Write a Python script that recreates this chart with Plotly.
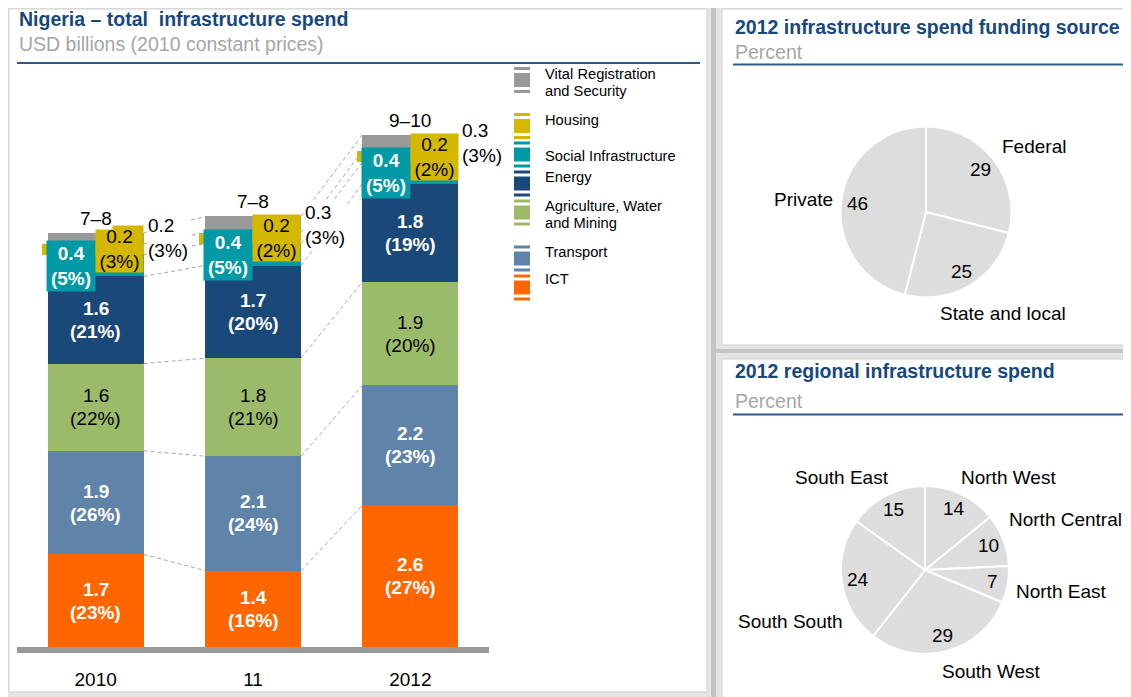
import math
import plotly.graph_objects as go

W, H = 1131, 697
OFF = 8  # page body margin in the browser
FONT = "Liberation Sans"

# ---------------- data ----------------
years = ["2010", "11", "2012"]
ict = [1.7, 1.4, 2.6]
transport = [1.9, 2.1, 2.2]
agri = [1.6, 1.8, 1.9]
energy = [1.6, 1.7, 1.8]
social = [0.4, 0.4, 0.4]
housing = [0.2, 0.2, 0.2]
vital = [0.2, 0.3, 0.3]

ict_pct = ["23%", "16%", "27%"]
transport_pct = ["26%", "24%", "23%"]
agri_pct = ["22%", "21%", "20%"]
energy_pct = ["21%", "20%", "19%"]
social_pct = ["5%", "5%", "5%"]
housing_pct = ["3%", "2%", "2%"]
vital_pct = ["3%", "3%", "3%"]
totals = ["7–8", "7–8", "9–10"]

legend_labels = [["Vital Registration", "and Security"], ["Housing"], ["Social Infrastructure"],
                 ["Energy"], ["Agriculture, Water", "and Mining"], ["Transport"], ["ICT"]]

funding_labels = ["Federal", "State and local", "Private"]
funding_values = [29, 25, 46]
region_labels = ["North West", "North Central", "North East", "South West", "South South", "South East"]
region_values = [14, 10, 7, 29, 24, 15]

# ---------------- styles ----------------
C_ICT, C_TRA, C_AGR, C_ENE = "#ff6600", "#6083a9", "#9bbb6a", "#1a4878"
C_SOC, C_HOU, C_VIT = "#0099a6", "#d4b700", "#999999"
BLUE = "#17487d"
GREY_TXT = "#a6a6a6"
PIE_FILL = "#dddddd"
TFS = 19.5

series = [  # bottom -> top
    ("ICT", ict, ict_pct, C_ICT, "white", True),
    ("Transport", transport, transport_pct, C_TRA, "white", True),
    ("Agriculture, Water and Mining", agri, agri_pct, C_AGR, "black", False),
    ("Energy", energy, energy_pct, C_ENE, "white", True),
    ("Social Infrastructure", social, social_pct, C_SOC, "white", True),
    ("Housing", housing, housing_pct, C_HOU, "black", False),
    ("Vital Registration and Security", vital, vital_pct, C_VIT, "black", False),
]


def px(x):
    return (x - OFF) / W


def py(y):
    return 1 - (y - OFF) / H


xs = list(range(len(years)))
BW = 0.61
HALF = BW / 2

# cumulative bases
bases = []
cum = [0.0] * len(xs)
for s in series:
    bases.append(cum[:])
    cum = [c + v for c, v in zip(cum, s[1])]
tops = cum

fig = go.Figure()

for (name, vals, pcts, col, tcol, bold), base in zip(series, bases):
    fig.add_trace(go.Bar(x=xs, y=vals, base=base, width=BW, marker=dict(color=col, line=dict(width=0)),
                         name=name, showlegend=False, hoverinfo="skip", xaxis="x", yaxis="y"))

# small housing tick to the left of each bar
hb = bases[5]
fig.add_trace(go.Bar(x=xs, y=housing, base=hb, width=0.037, offset=-HALF - 0.037,
                     marker=dict(color=C_HOU, line=dict(width=0)), showlegend=False, hoverinfo="skip"))

# dashed connectors between bars at every segment boundary
lx, ly = [], []
levels = [bases[k] for k in range(1, len(series))] + [tops]
for lev in levels:
    for i in range(len(xs) - 1):
        lx += [xs[i] + HALF, xs[i + 1] - HALF, None]
        ly += [lev[i], lev[i + 1], None]
fig.add_trace(go.Scatter(x=lx, y=ly, mode="lines", line=dict(color="#a8a8a8", width=1, dash="4px,3px"),
                         showlegend=False, hoverinfo="skip", connectgaps=False))

ann = []
LS = 11.5
FS = 19

# inside labels for the big segments
for k in range(4):
    name, vals, pcts, col, tcol, bold = series[k]
    for i in xs:
        mid = bases[k][i] + vals[i] / 2
        v = f"{vals[i]:.1f}"
        p = f"({pcts[i]})"
        if bold:
            v, p = f"<b>{v}</b>", f"<b>{p}</b>"
        for t, sh in ((v, LS), (p, -LS)):
            ann.append(dict(x=i, y=mid, xref="x", yref="y", text=t, showarrow=False, yshift=sh,
                            xanchor="center", yanchor="middle",
                            font=dict(family=FONT, size=FS, color=tcol)))

# social box
for i in xs:
    mid = bases[4][i] + social[i] / 2
    ann.append(dict(x=i - 0.157, y=mid, xref="x", yref="y", xanchor="center", yanchor="middle",
                    text=f"<b>{social[i]:.1f}</b><br><b>({social_pct[i]})</b>", showarrow=False,
                    bgcolor=C_SOC, width=48, height=50, borderpad=0,
                    font=dict(family=FONT, size=FS, color="white")))
# housing box
for i in xs:
    mid = bases[5][i] + housing[i] / 2
    ann.append(dict(x=i + 0.152, y=mid, xref="x", yref="y", xanchor="center", yanchor="middle",
                    text=f"{housing[i]:.1f}<br>({housing_pct[i]})", showarrow=False,
                    bgcolor=C_HOU, width=47, height=46, borderpad=0,
                    font=dict(family=FONT, size=FS, color="black")))
# vital text
for i in xs:
    mid = bases[6][i] + vital[i] / 2
    ann.append(dict(x=i + HALF, y=mid, xref="x", yref="y", xanchor="left", yanchor="middle", xshift=3,
                    align="left", text=f"{vital[i]:.1f}<br>({vital_pct[i]})", showarrow=False,
                    bgcolor="white", borderpad=0, font=dict(family=FONT, size=FS, color="black")))
# totals
for i in xs:
    ann.append(dict(x=i, y=tops[i], xref="x", yref="y", xanchor="center", yanchor="bottom", yshift=3,
                    text=totals[i], showarrow=False, bgcolor="white", borderpad=0,
                    font=dict(family=FONT, size=FS, color="black")))

shapes = []


# ---------------- headers ----------------
def header(x, y1, y2, yl, xl2, title, sub):
    ann.append(dict(x=px(x), y=py(y1), xref="paper", yref="paper", xanchor="left", yanchor="middle",
                    text=f"<b>{title}</b>", showarrow=False, font=dict(family=FONT, size=TFS, color=BLUE)))
    ann.append(dict(x=px(x), y=py(y2), xref="paper", yref="paper", xanchor="left", yanchor="middle",
                    text=sub, showarrow=False, font=dict(family=FONT, size=TFS, color=GREY_TXT)))
    shapes.append(dict(type="line", xref="paper", yref="paper", x0=px(x), x1=px(xl2), y0=py(yl), y1=py(yl),
                       line=dict(color="#2a5a8c", width=2)))


# background panels
for (x0, y0, x1, y1) in [(9, 9, 707, 692), (722, 9, 1140, 345), (722, 359, 1140, 710)]:
    shapes.append(dict(type="rect", xref="paper", yref="paper", x0=px(x0), x1=px(x1), y0=py(y1), y1=py(y0),
                       fillcolor="white", line=dict(color="#cfcfcf", width=1), layer="below"))
shapes.append(dict(type="rect", xref="paper", yref="paper", x0=px(711), x1=px(716), y0=0, y1=1,
                   fillcolor="#c4c4c4", line=dict(width=0), layer="below"))
shapes.append(dict(type="rect", xref="paper", yref="paper", x0=px(716), x1=1, y0=py(353), y1=py(349),
                   fillcolor="#c4c4c4", line=dict(width=0), layer="below"))

header(17, 19, 44, 63, 700, "Nigeria – total\u00a0 infrastructure spend", "USD billions (2010 constant prices)")
header(733, 27, 52, 64.5, 1123, "2012 infrastructure spend funding source", "Percent")
header(733, 371, 401, 414.5, 1123, "2012 regional infrastructure spend", "Percent")

# baseline
shapes.append(dict(type="rect", xref="x", yref="y", x0=-0.5, x1=2.5, y0=-0.11, y1=0,
                   fillcolor="#999999", line=dict(width=0)))

# ---------------- legend ----------------
leg_colors = [C_VIT, C_HOU, C_SOC, C_ENE, C_AGR, C_TRA, C_ICT]
leg_icon_y = [80, 126, 154.5, 183.5, 212.5, 258.5, 287.5]
leg_text_y = [74, 120, 156, 177, 206, 252, 279]
for lab, col, cy, ty in zip(legend_labels, leg_colors, leg_icon_y, leg_text_y):
    for (a, b) in [(cy - 13, cy - 10), (cy - 7, cy + 7), (cy + 10, cy + 13)]:
        shapes.append(dict(type="rect", xref="paper", yref="paper", x0=px(514), x1=px(530),
                           y0=py(b), y1=py(a), fillcolor=col, line=dict(width=0)))
    for j, line in enumerate(lab):
        ann.append(dict(x=px(543), y=py(ty + 17 * j), xref="paper", yref="paper", xanchor="left",
                        yanchor="middle", text=line, showarrow=False,
                        font=dict(family=FONT, size=14.7, color="black")))


# ---------------- pies ----------------
def pie_domain(cx, cy, r):
    return dict(x=[px(cx - r), px(cx + r)], y=[py(cy + r), py(cy - r)])


P1 = (926, 212, 85.5)
P2 = (925, 570, 84)
fig.add_trace(go.Pie(labels=funding_labels, values=funding_values, sort=False, direction="clockwise",
                     rotation=0, textinfo="none", hoverinfo="skip", showlegend=False,
                     marker=dict(colors=[PIE_FILL] * len(funding_values), line=dict(color="white", width=2)),
                     domain=pie_domain(*P1)))
fig.add_trace(go.Pie(labels=region_labels, values=region_values, sort=False, direction="clockwise",
                     rotation=0, textinfo="none", hoverinfo="skip", showlegend=False,
                     marker=dict(colors=[PIE_FILL] * len(region_values), line=dict(color="white", width=2)),
                     domain=pie_domain(*P2)))


def pie_values(values, cx, cy, r, f=0.81):
    tot = sum(values)
    c = 0
    for v in values:
        a = (c + v / 2) / tot * 2 * math.pi
        c += v
        ann.append(dict(x=px(cx + f * r * math.sin(a)), y=py(cy - f * r * math.cos(a)), xref="paper",
                        yref="paper", xanchor="center", yanchor="middle", text=str(v), showarrow=False,
                        font=dict(family=FONT, size=19, color="black")))


pie_values(funding_values, *P1)
pie_values(region_values, *P2)

funding_name_pos = [(1034, 146), (1003, 314), (803, 199)]
region_name_pos = [(1008, 477), (1065, 519), (1061, 591), (991, 671), (790, 621), (842, 477)]
for lab, (x, y) in list(zip(funding_labels, funding_name_pos)) + list(zip(region_labels, region_name_pos)):
    ann.append(dict(x=px(x), y=py(y), xref="paper", yref="paper", xanchor="center", yanchor="middle",
                    text=lab, showarrow=False, font=dict(family=FONT, size=19, color="black")))

# ---------------- layout ----------------
fig.update_layout(
    width=W, height=H, margin=dict(l=0, r=0, t=0, b=0),
    paper_bgcolor="#e4e4e4", plot_bgcolor="rgba(0,0,0,0)",
    barmode="overlay", bargap=0,
    xaxis=dict(domain=[px(17), px(489)], range=[-0.5, 2.5], tickvals=xs, ticktext=years,
               showgrid=False, zeroline=False, showline=False, ticks="", ticklabelstandoff=12,
               tickfont=dict(family=FONT, size=19, color="black"), fixedrange=True),
    yaxis=dict(domain=[py(653.5), py(53)], range=[-0.12, 10.9], visible=False, showgrid=False,
               zeroline=False, fixedrange=True),
    shapes=shapes, annotations=ann,
    font=dict(family=FONT),
)

fig.write_html("out.html")
